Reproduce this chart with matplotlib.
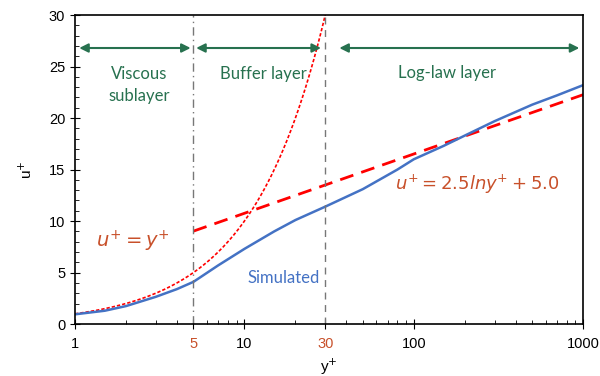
import numpy as np
import matplotlib
matplotlib.use("Agg")
import matplotlib.pyplot as plt

plt.rcParams["font.family"] = ["Liberation Sans", "DejaVu Sans"]

# simulated velocity profile
y_sim = [1, 1.5, 2, 3, 4, 5, 7, 10, 15, 20, 30, 50, 80, 100, 150, 200, 300, 500, 700, 1000]
u_sim = [0.95, 1.3, 1.75, 2.65, 3.4, 4.1, 5.7, 7.3, 9.0, 10.1, 11.4, 13.1, 15.0, 16.0, 17.3, 18.3, 19.7, 21.3, 22.2, 23.2]

# region boundaries
y_visc = 5
y_log = 30

green = "#27714f"
red_txt = "#c8502a"
blue = "#4472c4"

fig = plt.figure(figsize=(6, 3.76), dpi=100)
ax = fig.add_axes([0.125, 0.138, 0.847, 0.822])

# u+ = y+ (viscous sublayer law)
yv = np.logspace(0, np.log10(31), 200)
ax.plot(yv, yv, color="red", linestyle=(0, (2, 1.2)), lw=1.2)

# log law u+ = 2.5 ln y+ + 5
yl = np.logspace(np.log10(y_visc), 3, 200)
ax.plot(yl, 2.5 * np.log(yl) + 5.0, color="red", linestyle=(0, (5, 3)), lw=2)

# simulated
ax.plot(y_sim, u_sim, color=blue, lw=1.8)

ax.axvline(y_visc, color="#777777", lw=1, linestyle=(0, (6, 3, 1, 3)))
ax.axvline(y_log, color="#777777", lw=1, linestyle=(0, (5, 4)))

ax.set_xscale("log")
ax.set_xlim(1, 1000)
ax.set_ylim(0, 30)
ax.set_xticks([1, 5, 10, 30, 100, 1000])
ax.set_xticklabels(["1", "5", "10", "30", "100", "1000"])
for lbl in ax.get_xticklabels():
    if lbl.get_text() in ("5", "30"):
        lbl.set_color(red_txt)
ax.set_yticks(range(0, 31, 5))
ax.set_yticks(range(0, 31), minor=True)
ax.tick_params(which="major", direction="inout", length=7, labelsize=10.5)
ax.tick_params(axis="x", which="major", pad=6)
ax.tick_params(which="minor", direction="in", length=3)
for s in ax.spines.values():
    s.set_linewidth(1.2)

ax.set_xlabel("y$^{+}$", fontsize=11, labelpad=4)
ax.set_ylabel("u$^{+}$", fontsize=11, labelpad=10)

# layer arrows
arr = dict(arrowstyle="<|-|>", color=green, lw=1.5, mutation_scale=13)
ax.annotate("", xy=(1.02, 26.8), xytext=(y_visc, 26.8), arrowprops=arr)
ax.annotate("", xy=(y_visc, 26.8), xytext=(y_log * 0.98, 26.8), arrowprops=arr)
ax.annotate("", xy=(35, 26.8), xytext=(985, 26.8), arrowprops=arr)

tf = dict(color=green, fontsize=12, family="Lato", ha="center", va="center")
ax.text(2.4, 23.2, "Viscous\nsublayer", linespacing=1.4, **tf)
ax.text(13, 24.3, "Buffer layer", **tf)
ax.text(158, 24.4, "Log-law layer", **tf)

ax.text(2.2, 8.0, r"$u^{+} = y^{+}$", color=red_txt, fontsize=14,
        ha="center", va="center", family="serif")
ax.text(235, 13.6, r"$u^{+} = 2.5 ln y^{+} + 5.0$", color=red_txt, fontsize=13,
        ha="center", va="center", family="serif")
ax.text(17, 4.5, "Simulated", color=blue, fontsize=12, family="Lato",
        ha="center", va="center")

fig.savefig("out.png", dpi=100)
